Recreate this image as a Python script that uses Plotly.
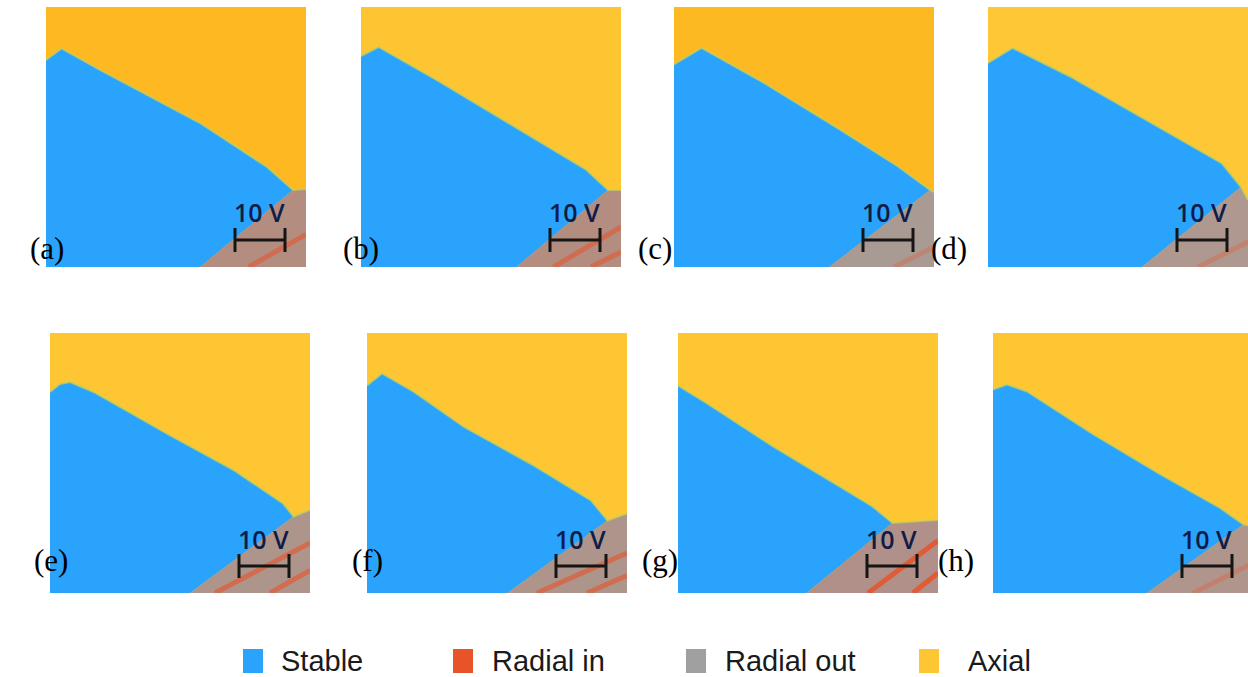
import plotly.graph_objects as go

W, H = 1248, 677
VMAX = 52.0  # panel extent in volts (scale bar: 10 V)

panels = ["a", "b", "c", "d", "e", "f", "g", "h"]

# Stable / Axial boundary (volts), last point = junction with radial region
a_bx = [0, 3.1, 10.8, 30.8, 44.2, 49.4]
a_by = [41.4, 43.7, 39.4, 28.8, 20.0, 15.4]
b_bx = [0, 3.5, 15.1, 31.8, 45.1, 49.4]
b_by = [42.2, 44.0, 37.4, 27.4, 19.4, 15.4]
c_bx = [0, 5.5, 18.0, 33.3, 44.8, 51.2]
c_by = [40.5, 43.8, 36.8, 27.4, 20.1, 15.4]
d_bx = [0, 4.9, 16.4, 31.6, 46.8, 50.6]
d_by = [40.8, 43.8, 38.1, 29.4, 20.7, 16.0]
e_bx = [0, 2.0, 4.0, 8.7, 23.3, 36.7, 46.6, 48.7]
e_by = [40.2, 41.8, 42.2, 40.2, 31.9, 24.6, 17.9, 15.3]
f_bx = [0, 3.0, 9.4, 19.4, 32.8, 44.8, 48.1]
f_by = [41.5, 43.9, 40.2, 33.2, 25.8, 18.5, 14.5]
g_bx = [0, 5.8, 19.0, 32.3, 38.9, 42.9]
g_by = [41.5, 37.9, 29.3, 21.3, 17.3, 14.0]
h_bx = [0, 2.8, 6.8, 20.1, 33.5, 45.4, 50.1]
h_by = [40.7, 41.7, 40.3, 31.7, 23.7, 17.0, 13.7]

# where the axial region meets the right edge (V)
edge_y = [15.6, 15.4, 15.0, 13.4, 16.6, 15.9, 14.6, 13.4]
# where stable meets radial region on the bottom edge (V)
radial_bottom = [30.8, 31.1, 31.0, 30.8, 28.0, 28.1, 25.7, 30.8]

# Radial-in stripes: (bottom x, right-edge y)
stripes = {
    "a": [(40.5, 6.5)],
    "b": [(38.5, 8.0), (46.0, 3.0)],
    "c": [(44.0, 4.0)],
    "d": [(42.0, 5.0)],
    "e": [(33.0, 10.0), (44.0, 4.5)],
    "f": [(34.0, 8.0), (44.0, 3.5)],
    "g": [(38.0, 10.5), (47.0, 4.0)],
    "h": [(40.0, 6.0)],
}
stripe_alpha = [0.55, 0.55, 0.3, 0.3, 0.6, 0.6, 0.85, 0.3]

axial_col = ["#FDB822", "#FEC532", "#FDB922", "#FEC735",
             "#FEC632", "#FEC632", "#FEC632", "#FEC632"]
radial_out_col = ["#B38D80", "#B38D80", "#A99B94", "#AE9890",
                  "#AE958B", "#AE958B", "#B09088", "#B0958C"]
STABLE = "#2AA3FD"
RADIAL_IN = "#E8542A"
RADIAL_OUT = "#A0A0A0"
AXIAL = "#FEC632"

bounds = {
    "a": (a_bx, a_by), "b": (b_bx, b_by), "c": (c_bx, c_by), "d": (d_bx, d_by),
    "e": (e_bx, e_by), "f": (f_bx, f_by), "g": (g_bx, g_by), "h": (h_bx, h_by),
}

# panel pixel boxes (left, top, right, bottom)
boxes = [
    (46, 7, 306, 267), (361, 7, 621, 267), (674, 7, 934, 267), (988, 7, 1248, 267),
    (50, 333, 310, 593), (367, 333, 627, 593), (678, 333, 938, 593), (993, 333, 1253, 593),
]
label_pos = [(28, 249), (341, 249), (655, 249), (969, 249),
             (32, 580), (350, 580), (660, 580), (976, 580)]

fig = go.Figure()
layout_axes = {}

for i, p in enumerate(panels):
    n = "" if i == 0 else str(i + 1)
    xa, ya = "x" + n, "y" + n
    l, t, r, b = boxes[i]
    r_clip = min(r, W)
    xmax = VMAX * (r_clip - l) / (r - l)
    layout_axes["xaxis" + n] = dict(domain=[l / W, r_clip / W], range=[0, xmax],
                                    visible=False, fixedrange=True, anchor=ya)
    layout_axes["yaxis" + n] = dict(domain=[1 - b / H, 1 - t / H], range=[0, VMAX],
                                    visible=False, fixedrange=True, anchor=xa)
    bx, by = bounds[p]
    # Axial background
    fig.add_trace(go.Scatter(x=[0, VMAX, VMAX, 0, 0], y=[0, 0, VMAX, VMAX, 0],
                             fill="toself", fillcolor=axial_col[i], mode="none",
                             xaxis=xa, yaxis=ya, showlegend=False, hoverinfo="skip"))
    # Stable region
    sx = [0] + bx + [radial_bottom[i], 0]
    sy = [0] + by + [0, 0]
    fig.add_trace(go.Scatter(x=sx, y=sy, fill="toself", fillcolor=STABLE, mode="none",
                             xaxis=xa, yaxis=ya, showlegend=False, hoverinfo="skip"))
    # Radial-out region
    rx = [radial_bottom[i], bx[-1], VMAX, VMAX, radial_bottom[i]]
    ry = [0, by[-1], edge_y[i], 0, 0]
    fig.add_trace(go.Scatter(x=rx, y=ry, fill="toself", fillcolor=radial_out_col[i],
                             mode="none", xaxis=xa, yaxis=ya, showlegend=False,
                             hoverinfo="skip"))
    # Radial-in stripes
    for (x0, y1) in stripes[p]:
        fig.add_trace(go.Scatter(x=[x0, VMAX], y=[0, y1], mode="lines",
                                 line=dict(color=RADIAL_IN, width=5),
                                 opacity=stripe_alpha[i], xaxis=xa, yaxis=ya,
                                 showlegend=False, hoverinfo="skip"))
    # fringe along stable/axial boundary
    fig.add_trace(go.Scatter(x=bx + [VMAX], y=by + [edge_y[i]], mode="lines",
                             line=dict(color="#C8D25A", width=2), opacity=0.7,
                             xaxis=xa, yaxis=ya, showlegend=False, hoverinfo="skip"))
    # scale bar 10 V
    x0, x1, yb = 37.8, 47.8, 5.4
    fig.add_trace(go.Scatter(x=[x0, x0, None, x0, x1, None, x1, x1],
                             y=[3.0, 7.8, None, yb, yb, None, 3.0, 7.8],
                             mode="lines", line=dict(color="#151515", width=3),
                             xaxis=xa, yaxis=ya, showlegend=False, hoverinfo="skip"))
    fig.add_annotation(x=42.6, y=10.9, xref=xa, yref=ya, text="10 V", showarrow=False,
                       font=dict(family="Open Sans", size=25, color="#0F1C48",
                                 weight=600))
    lx, ly = label_pos[i]
    fig.add_annotation(x=lx / W, y=1 - ly / H, xref="paper", yref="paper",
                       text="(" + p + ")", showarrow=False,
                       font=dict(family="Liberation Serif", size=31, color="#000000"))

# Legend drawn below panels
legend_names = ["Stable", "Radial in", "Radial out", "Axial"]
legend_cols = [STABLE, RADIAL_IN, RADIAL_OUT, AXIAL]
legend_sq_x = [243, 453, 686, 919]
legend_txt_x = [279, 490, 723, 966]
shapes = []
LY = 661
for name, col, sxp, txp in zip(legend_names, legend_cols, legend_sq_x, legend_txt_x):
    shapes.append(dict(type="rect", xref="paper", yref="paper",
                       x0=sxp / W, x1=(sxp + 20) / W,
                       y0=1 - (LY + 12) / H, y1=1 - (LY - 12) / H,
                       fillcolor=col, line=dict(width=0)))
    fig.add_annotation(x=txp / W, y=1 - LY / H, xref="paper", yref="paper",
                       xanchor="left", yanchor="middle", text=name, showarrow=False,
                       font=dict(family="Liberation Sans", size=29, color="#1A1A1A"))

fig.update_layout(width=W, height=H, margin=dict(l=0, r=0, t=0, b=0),
                  paper_bgcolor="white", plot_bgcolor="white", shapes=shapes,
                  showlegend=False, **layout_axes)

fig.write_html("out.html", config={"displayModeBar": False},
               post_script="document.body.style.margin='0';"
                           "document.body.style.overflow='hidden';")
